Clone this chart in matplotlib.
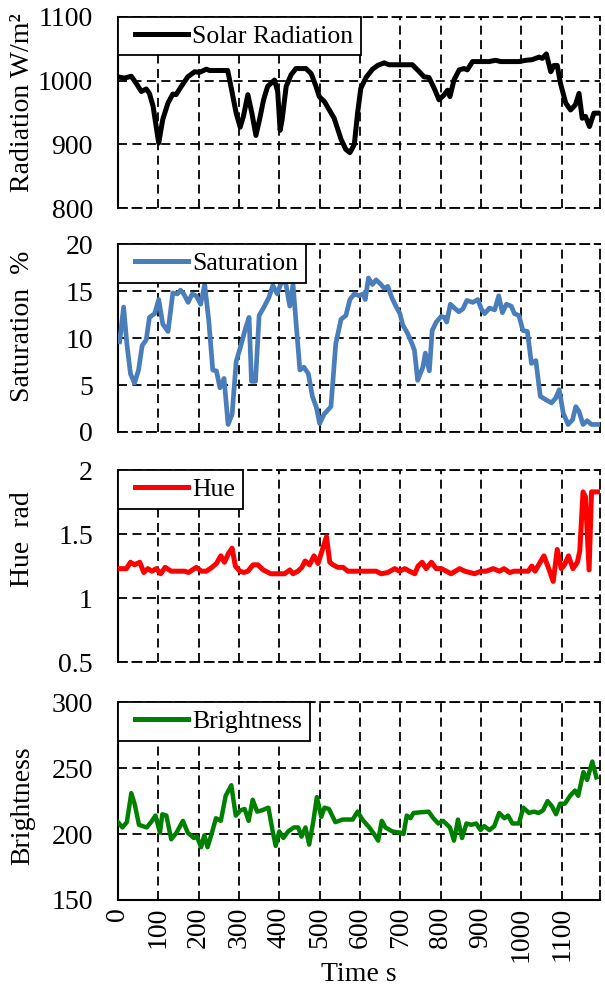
import matplotlib
matplotlib.use("Agg")
import matplotlib.pyplot as plt
from matplotlib.lines import Line2D
from matplotlib.legend_handler import HandlerLine2D
from matplotlib.ticker import FuncFormatter

plt.rcParams['font.family'] = ['Liberation Serif', 'DejaVu Serif']
plt.rcParams['axes.unicode_minus'] = False

# ---------------- measured series ----------------
rad_t = [0, 16, 33, 45, 58, 70, 78, 87, 101, 111, 124, 136, 144, 157, 173, 190,
         202, 219, 227, 272, 281, 293, 303, 311, 322, 332, 342, 351, 361, 371,
         388, 396, 402, 407, 417, 429, 441, 466, 479, 491, 499, 512, 524, 536,
         553, 565, 575, 586, 594, 602, 615, 631, 644, 660, 672, 730, 747, 759,
         771, 784, 796, 809, 817, 823, 833, 846, 858, 866, 879, 920, 936, 949,
         994, 1011, 1027, 1044, 1052, 1062, 1073, 1081, 1089, 1097, 1110, 1122,
         1134, 1143, 1151, 1159, 1169, 1180, 1195]
rad_v = [1006, 1004, 1007, 996, 983, 987, 980, 960, 902, 939, 965, 979, 978, 991,
         1006, 1014, 1013, 1018, 1016, 1016, 988, 949, 927, 944, 978, 949, 914,
         939, 970, 991, 1001, 983, 922, 939, 991, 1009, 1019, 1019, 1011, 991,
         975, 967, 954, 941, 908, 892, 887, 900, 949, 988, 1005, 1018, 1024,
         1028, 1025, 1025, 1014, 1006, 1005, 988, 970, 978, 985, 975, 1001,
         1017, 1019, 1017, 1030, 1030, 1032, 1030, 1030, 1032, 1033, 1037, 1035,
         1042, 1014, 1024, 1024, 996, 965, 954, 962, 980, 941, 944, 928, 949, 949]

sat_t = [4, 14, 22, 31, 41, 51, 60, 70, 78, 91, 101, 111, 124, 136, 147, 155, 163,
         174, 184, 194, 205, 215, 225, 235, 244, 253, 263, 273, 283, 293, 304,
         316, 325, 331, 341, 350, 362, 374, 384, 395, 403, 414, 426, 434, 441,
         451, 461, 472, 482, 492, 500, 511, 528, 540, 553, 565, 575, 586, 598,
         608, 613, 621, 631, 640, 652, 660, 669, 679, 689, 699, 706, 718, 729,
         735, 743, 756, 762, 772, 779, 789, 801, 809, 815, 824, 834, 845, 855,
         865, 880, 892, 901, 909, 921, 934, 944, 953, 963, 975, 983, 994, 1004,
         1015, 1025, 1036, 1047, 1062, 1075, 1085, 1094, 1104, 1116, 1127, 1135,
         1143, 1153, 1163, 1174, 1195]
sat_v = [9.6, 13.3, 9.4, 6.2, 5.2, 6.6, 9.2, 9.8, 12.2, 12.6, 14.1, 11.5, 10.7,
         14.8, 14.7, 15.1, 14.7, 13.8, 14.7, 14.5, 13.6, 15.7, 11.9, 6.6, 6.5,
         4.7, 5.7, 0.8, 1.9, 7.5, 9.1, 11.0, 12.2, 5.4, 5.4, 12.4, 13.3, 14.3,
         15.6, 14.7, 15.7, 16.3, 13.4, 15.7, 11.9, 6.6, 6.9, 6.2, 3.8, 2.6, 0.9,
         1.9, 2.7, 9.4, 12.0, 12.4, 14.1, 14.7, 14.5, 14.7, 14.1, 16.4, 15.7,
         16.2, 15.7, 15.3, 15.5, 14.3, 13.4, 12.6, 11.4, 10.5, 9.4, 8.7, 5.5,
         6.9, 8.4, 6.5, 10.8, 11.7, 12.3, 12.2, 11.7, 13.6, 13.2, 12.8, 13.1,
         14.0, 13.8, 14.1, 13.1, 12.6, 13.2, 13.0, 14.5, 12.7, 13.6, 13.4, 12.6,
         12.4, 10.8, 10.7, 7.3, 7.6, 3.8, 3.4, 3.1, 3.6, 4.5, 2.0, 0.8, 1.3,
         2.7, 2.2, 0.8, 1.2, 0.8, 0.8]

hue_t = [0, 21, 31, 41, 54, 64, 74, 84, 95, 106, 117, 132, 165, 175, 194, 207,
         219, 233, 244, 255, 264, 274, 283, 291, 302, 312, 322, 335, 347, 360,
         379, 413, 426, 434, 446, 456, 464, 475, 486, 496, 507, 517, 525, 533,
         545, 558, 570, 640, 653, 669, 686, 698, 711, 723, 736, 744, 754, 764,
         777, 789, 802, 814, 826, 847, 860, 884, 900, 913, 930, 946, 957, 971,
         983, 1017, 1026, 1034, 1043, 1056, 1068, 1079, 1089, 1099, 1107, 1117,
         1128, 1139, 1145, 1153, 1159, 1168, 1174, 1195]
hue_v = [1.23, 1.23, 1.28, 1.26, 1.28, 1.20, 1.23, 1.21, 1.23, 1.19, 1.24, 1.21,
         1.21, 1.20, 1.24, 1.21, 1.21, 1.24, 1.27, 1.33, 1.28, 1.35, 1.39, 1.25,
         1.21, 1.20, 1.21, 1.26, 1.26, 1.22, 1.19, 1.19, 1.22, 1.19, 1.21, 1.24,
         1.29, 1.26, 1.33, 1.27, 1.38, 1.48, 1.28, 1.26, 1.24, 1.24, 1.21, 1.21,
         1.19, 1.20, 1.23, 1.21, 1.23, 1.21, 1.19, 1.25, 1.28, 1.23, 1.28, 1.23,
         1.23, 1.21, 1.19, 1.23, 1.21, 1.19, 1.21, 1.21, 1.23, 1.21, 1.23, 1.20,
         1.21, 1.21, 1.25, 1.21, 1.26, 1.33, 1.23, 1.13, 1.38, 1.23, 1.26, 1.33,
         1.23, 1.28, 1.37, 1.83, 1.79, 1.22, 1.83, 1.83]

bri_t = [0, 11, 22, 33, 42, 52, 71, 82, 93, 104, 110, 120, 132, 145, 161, 173,
         188, 196, 206, 214, 222, 232, 243, 255, 267, 281, 292, 304, 314, 324,
         334, 345, 357, 373, 383, 391, 400, 410, 422, 436, 447, 455, 465, 474,
         484, 493, 504, 512, 523, 539, 557, 582, 594, 606, 623, 635, 645, 654,
         663, 680, 700, 708, 716, 725, 733, 770, 782, 794, 806, 823, 833, 843,
         853, 864, 876, 888, 899, 908, 921, 933, 945, 958, 967, 978, 994, 1005,
         1019, 1031, 1043, 1054, 1065, 1076, 1086, 1096, 1108, 1121, 1133, 1141,
         1154, 1163, 1176, 1186]
bri_v = [209, 205, 209, 231, 222, 207, 205, 209, 214, 201, 215, 214, 196, 201,
         210, 201, 197, 198, 190, 199, 190, 200, 212, 210, 229, 237, 214, 218,
         219, 210, 226, 217, 218, 220, 203, 191, 202, 197, 202, 205, 205, 198,
         205, 192, 209, 228, 213, 220, 219, 209, 211, 211, 217, 211, 205, 200,
         195, 210, 205, 202, 201, 200, 214, 212, 216, 217, 212, 208, 210, 205,
         195, 211, 197, 208, 207, 208, 203, 206, 203, 206, 216, 212, 214, 208,
         208, 220, 216, 217, 216, 218, 225, 221, 215, 223, 223, 229, 233, 229,
         247, 241, 255, 243]

x_ticks = list(range(0, 1200, 100))
x_max = 1195

panels = [
    dict(t=rad_t, v=rad_v, color='black', lw=3.6, name='Solar Radiation',
         ylabel='Radiation W/m²', ylim=(800, 1100), yticks=[800, 900, 1000, 1100],
         ylab_y=0.55),
    dict(t=sat_t, v=sat_v, color='#4a7ebb', lw=3.4, name='Saturation',
         ylabel='Saturation  %', ylim=(0, 20), yticks=[0, 5, 10, 15, 20],
         ylab_y=0.565),
    dict(t=hue_t, v=hue_v, color='#ff0000', lw=3.6, name='Hue',
         ylabel='Hue  rad', ylim=(0.5, 2), yticks=[0.5, 1, 1.5, 2],
         ylab_y=0.64),
    dict(t=bri_t, v=bri_v, color='#008000', lw=3.2, name='Brightness',
         ylabel='Brightness', ylim=(150, 300), yticks=[150, 200, 250, 300],
         ylab_y=0.475),
]

rects = [
    [0.195, 0.7907, 0.7967, 0.1922],
    [0.195, 0.5654, 0.7967, 0.1890],
    [0.195, 0.3340, 0.7967, 0.1930],
    [0.195, 0.0946, 0.7967, 0.1990],
]

dash = (0, (5, 3))
general = FuncFormatter(lambda v, pos: f'{v:g}')

fig = plt.figure(figsize=(6.05, 9.94), dpi=100)
first = None
for i, (p, r) in enumerate(zip(panels, rects)):
    ax = fig.add_axes(r, sharex=first)
    if first is None:
        first = ax
    ax.plot(p['t'], p['v'], color=p['color'], lw=p['lw'],
            solid_joinstyle='round', label=p['name'], zorder=3)
    ax.set_xlim(0, x_max)
    ax.set_ylim(*p['ylim'])
    ax.set_yticks(p['yticks'])
    ax.yaxis.set_major_formatter(general)
    ax.set_xticks(x_ticks)
    ax.grid(True, color='black', linestyle=dash, linewidth=1.3)
    ax.set_axisbelow(True)

    for side in ('top', 'right'):
        ax.spines[side].set_linestyle(dash)
        ax.spines[side].set_linewidth(1.3)
    ax.spines['left'].set_linewidth(1.5)
    last = i == len(panels) - 1
    if last:
        ax.spines['bottom'].set_linewidth(1.5)
        ax.tick_params(axis='x', labelrotation=90, labelsize=20, length=0, pad=5)
        ax.set_xlabel('Time s', fontsize=20, labelpad=0)
    else:
        ax.spines['bottom'].set_linestyle(dash)
        ax.spines['bottom'].set_linewidth(1.3)
        ax.tick_params(axis='x', labelbottom=False, length=0)
    ax.tick_params(axis='y', labelsize=20, length=0, pad=18)

    ax.set_ylabel(p['ylabel'], fontsize=20)
    ax.yaxis.set_label_coords(-0.172, p['ylab_y'])

    # legend line is inset a little from the frame, as in the original chart
    leg = ax.legend(loc='upper left', fontsize=18.5, frameon=True, fancybox=False,
                    borderaxespad=0, borderpad=0.3, handlelength=2.42,
                    handletextpad=0.16, framealpha=1,
                    handler_map={Line2D: HandlerLine2D(xpad=0.36)})
    leg.get_frame().set_edgecolor('black')
    leg.get_frame().set_linewidth(1.3)
    for line in leg.get_lines():
        line.set_linewidth(3.6)

fig.savefig('out.png', dpi=100)
